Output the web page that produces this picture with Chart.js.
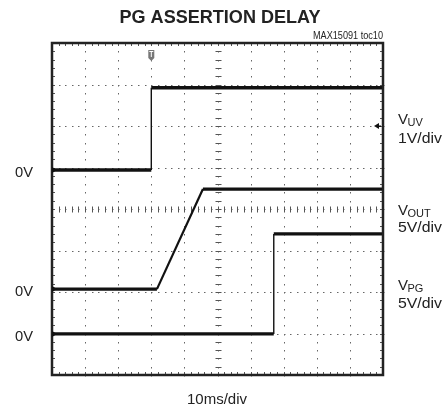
<!DOCTYPE html>
<html>
<head>
<meta charset="utf-8">
<script src="https://cdn.jsdelivr.net/npm/chart.js@4.4.0/dist/chart.umd.min.js"></script>
<style>
  html, body { margin: 0; padding: 0; background: #fff; }
  #wrap { position: relative; width: 443px; height: 408px; }
</style>
</head>
<body>
<div id="wrap"><canvas id="scope" width="443" height="408"></canvas></div>
<script>
// scope screen: 10 x 8 divisions, values in divisions from bottom-left
const uvX = [0, 3.0, 3.0, 10]
const uvY = [4.94, 4.94, 6.92, 6.92]
const outX = [0, 3.17, 4.56, 10]
const outY = [2.07, 2.07, 4.48, 4.48]
const pgX = [0, 6.7, 6.7, 10]
const pgY = [0.99, 0.99, 3.40, 3.40]
const groundLevels = [4.94, 2.07, 0.99]

const pts = (xs, ys) => xs.map((x, i) => ({x: x, y: ys[i]}))

// fast edges show up thin on the scope, flat parts thick and fuzzy
const segWidth = (c) => {
  const dx = Math.abs(c.p1.parsed.x - c.p0.parsed.x)
  const dy = Math.abs(c.p1.parsed.y - c.p0.parsed.y)
  if (dx < 0.01) return 1.4
  if (dy > 0.01) return 2.2
  return 3.4
}

const trace = (label, xs, ys) => ({
  label: label,
  data: pts(xs, ys),
  showLine: true,
  borderColor: '#111',
  borderWidth: 3.4,
  pointRadius: 0,
  tension: 0,
  segment: { borderWidth: segWidth },
})

const FONT = '"Liberation Sans", Arial, sans-serif'

// draw text squeezed to a given width (the original uses a narrow face)
function fitText(ctx, text, x, y, font, width, align) {
  ctx.font = font
  const w = ctx.measureText(text).width
  const k = width / w
  let left = x
  if (align === 'center') left = x - width / 2
  if (align === 'right') left = x - width
  ctx.save()
  ctx.textAlign = 'left'
  ctx.translate(left, y)
  ctx.scale(k, 1)
  ctx.fillText(text, 0, 0)
  ctx.restore()
}

var scopePlugin = {
  id: 'scope',
  beforeDatasetsDraw(chart) {
    const ctx = chart.ctx
    const xs = chart.scales.x, ys = chart.scales.y
    const a = chart.chartArea
    ctx.save()
    // dotted graticule
    ctx.fillStyle = '#666'
    for (let i = 1; i < 10; i++) {
      const px = Math.round(xs.getPixelForValue(i))
      for (let j = 0; j <= 40; j++) {
        const py = ys.getPixelForValue(j / 5)
        ctx.fillRect(px, Math.round(py), 1, 1.5)
      }
    }
    for (let i = 1; i < 8; i++) {
      const py = Math.round(ys.getPixelForValue(i))
      for (let j = 0; j <= 50; j++) {
        const px = xs.getPixelForValue(j / 5)
        ctx.fillRect(Math.round(px), py, 1.5, 1)
      }
    }
    // centre axes with minor ticks
    ctx.strokeStyle = '#555'
    ctx.lineWidth = 1
    const cx = Math.round(xs.getPixelForValue(5)) + 0.5
    const cy = Math.round(ys.getPixelForValue(4)) + 0.5
    ctx.beginPath()
    for (let j = 1; j < 50; j++) {
      const px = Math.round(xs.getPixelForValue(j / 5)) + 0.5
      ctx.moveTo(px, cy - 3); ctx.lineTo(px, cy + 3)
      ctx.moveTo(px, a.top); ctx.lineTo(px, a.top + 3)
      ctx.moveTo(px, a.bottom); ctx.lineTo(px, a.bottom - 3)
    }
    for (let j = 1; j < 40; j++) {
      const py = Math.round(ys.getPixelForValue(j / 5)) + 0.5
      ctx.moveTo(cx - 3, py); ctx.lineTo(cx + 3, py)
      ctx.moveTo(a.left, py); ctx.lineTo(a.left + 3, py)
      ctx.moveTo(a.right, py); ctx.lineTo(a.right - 3, py)
    }
    ctx.stroke()
    ctx.restore()
  },
  afterDatasetsDraw(chart) {
    const ctx = chart.ctx
    const xs = chart.scales.x, ys = chart.scales.y
    const a = chart.chartArea
    ctx.save()
    // frame
    ctx.strokeStyle = '#222'
    ctx.lineWidth = 2.5
    ctx.strokeRect(a.left, a.top, a.right - a.left, a.bottom - a.top)

    // ground markers on left edge
    ctx.fillStyle = '#111'
    groundLevels.forEach(v => {
      const py = ys.getPixelForValue(v)
      ctx.beginPath()
      ctx.moveTo(a.left, py - 3); ctx.lineTo(a.left + 5, py); ctx.lineTo(a.left, py + 3)
      ctx.fill()
    })
    // trigger level marker on right edge
    const ty = ys.getPixelForValue(6)
    ctx.beginPath()
    ctx.moveTo(a.right - 9, ty); ctx.lineTo(a.right - 4, ty - 3); ctx.lineTo(a.right - 4, ty + 3)
    ctx.fill()
    ctx.fillRect(a.right - 5, ty - 0.5, 3, 1.5)
    // trigger position marker at top
    const tx = xs.getPixelForValue(3.0)
    ctx.fillStyle = '#777'
    ctx.fillRect(tx - 3, a.top + 7, 6, 8)
    ctx.beginPath()
    ctx.moveTo(tx - 3, a.top + 15); ctx.lineTo(tx, a.top + 18); ctx.lineTo(tx + 3, a.top + 15)
    ctx.fill()
    ctx.fillStyle = '#fff'
    ctx.fillRect(tx - 2, a.top + 8, 4, 1)
    ctx.fillRect(tx - 0.5, a.top + 8, 1, 6)

    // text
    ctx.fillStyle = '#222'
    ctx.textBaseline = 'alphabetic'
    fitText(ctx, 'PG ASSERTION DELAY', 220, 23, 'bold 19px ' + FONT, 201, 'center')
    fitText(ctx, 'MAX15091 toc10', a.right, 39, '10px ' + FONT, 70, 'right')
    fitText(ctx, '10ms/div', 217, 404, '14px ' + FONT, 60, 'center')

    groundLevels.forEach(v => {
      fitText(ctx, '0V', 15, ys.getPixelForValue(v) + 7, '15px ' + FONT, 18, 'left')
    })

    const sideLabel = (sub, scale, py, py2) => {
      const lx = 398
      ctx.font = '15px ' + FONT
      ctx.textAlign = 'left'
      ctx.fillText('V', lx, py)
      const w = ctx.measureText('V').width
      ctx.font = '11px ' + FONT
      ctx.fillText(sub, lx + w - 0.5, py + 2)
      fitText(ctx, scale, lx, py2, '15px ' + FONT, 44, 'left')
    }
    sideLabel('UV', '1V/div', 124, 143)
    sideLabel('OUT', '5V/div', 215, 232)
    sideLabel('PG', '5V/div', 290, 308)
    ctx.restore()
  }
}

new Chart(document.getElementById('scope'), {
  type: 'scatter',
  data: {
    datasets: [
      trace('VUV', uvX, uvY),
      trace('VOUT', outX, outY),
      trace('VPG', pgX, pgY),
    ]
  },
  options: {
    responsive: false,
    animation: false,
    devicePixelRatio: 1,
    layout: { padding: { left: 52, top: 43, right: 60, bottom: 33 } },
    plugins: { legend: { display: false }, tooltip: { enabled: false } },
    scales: {
      x: { type: 'linear', min: 0, max: 10, display: false },
      y: { type: 'linear', min: 0, max: 8, display: false },
    }
  },
  plugins: [scopePlugin]
})
</script>
</body>
</html>
